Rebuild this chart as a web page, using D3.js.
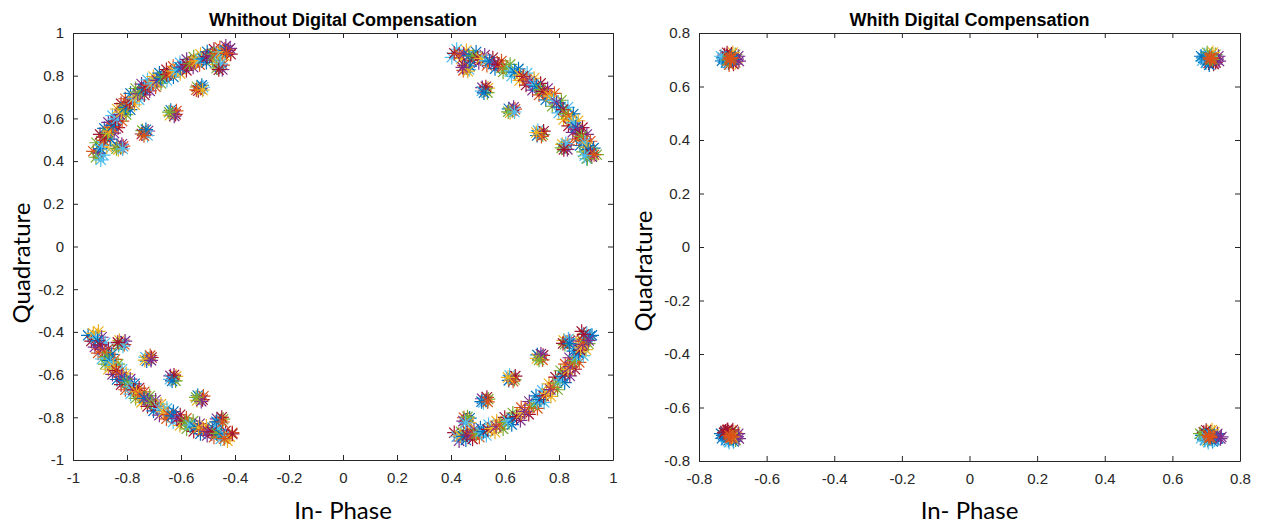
<!DOCTYPE html>
<html>
<head>
<meta charset="utf-8">
<script src="https://cdn.jsdelivr.net/npm/d3@7"></script>
<style>
  body { margin: 0; background: #fff; }
  svg { display: block; }
</style>
</head>
<body>
<svg id="chart" width="1261" height="529"></svg>
<script>
// MATLAB default colour order, indexed by the third value of every point
const seriesColors = ["#0072BD", "#D95319", "#EDB120", "#7E2F8E", "#77AC30", "#4DBEEE", "#A2142F"];

const uncompTicks = [-1, -0.8, -0.6, -0.4, -0.2, 0, 0.2, 0.4, 0.6, 0.8, 1];
const compTicks = [-0.8, -0.6, -0.4, -0.2, 0, 0.2, 0.4, 0.6, 0.8];

const titles = ["Whithout Digital Compensation", "Whith Digital Compensation"];
const xLabel = "In- Phase";
const yLabel = "Quadrature";

// ---- received symbols without compensation: [I, Q, series] ----
const uncompArcUL = [
  [-0.906,0.437,3],[-0.899,0.458,0],[-0.894,0.474,5],[-0.886,0.497,1],
  [-0.882,0.512,6],[-0.872,0.530,4],[-0.867,0.540,2],[-0.857,0.558,1],
  [-0.852,0.567,0],[-0.842,0.587,6],[-0.837,0.598,5],[-0.827,0.618,3],
  [-0.821,0.629,2],[-0.811,0.645,4],[-0.806,0.652,0],[-0.796,0.668,1],
  [-0.790,0.676,6],[-0.779,0.692,5],[-0.771,0.700,2],[-0.760,0.715,3],
  [-0.753,0.723,4],[-0.740,0.737,0],[-0.731,0.743,6],[-0.719,0.756,1],
  [-0.710,0.762,5],[-0.697,0.774,2],[-0.689,0.778,3],[-0.676,0.789,0],
  [-0.667,0.793,4],[-0.653,0.805,6],[-0.642,0.809,1],[-0.628,0.821,2],
  [-0.617,0.825,5],[-0.603,0.837,0],[-0.593,0.841,3],[-0.578,0.852,6],
  [-0.568,0.856,4],[-0.554,0.866,1],[-0.543,0.868,2],[-0.529,0.877,5],
  [-0.518,0.879,0],[-0.504,0.889,6],[-0.494,0.891,3],[-0.479,0.901,4],
  [-0.469,0.903,1],[-0.456,0.911,5],[-0.447,0.911,2],[-0.435,0.918,0],[-0.425,0.920,6],
  [-0.915,0.418,4],[-0.897,0.406,5],[-0.418,0.928,3],[-0.432,0.905,1]
];
const uncompBandUL = [
  [-0.925,0.446,1],[-0.913,0.486,4],[-0.900,0.525,6],[-0.884,0.553,0],[-0.869,0.581,3],
  [-0.854,0.613,5],[-0.837,0.644,2],[-0.822,0.669,6],[-0.806,0.692,1],[-0.787,0.717,0],
  [-0.768,0.740,4],[-0.746,0.761,3],[-0.724,0.780,5],[-0.702,0.796,2],[-0.680,0.812,0],
  [-0.654,0.828,6],[-0.629,0.844,1],[-0.604,0.861,5],[-0.579,0.876,3],[-0.553,0.888,4],
  [-0.528,0.900,2],[-0.503,0.912,0],[-0.478,0.924,6],[-0.456,0.932,1],[-0.434,0.939,3],
  [-0.887,0.428,5],[-0.875,0.466,2],[-0.862,0.503,0],[-0.848,0.531,3],[-0.833,0.557,6],
  [-0.818,0.587,1],[-0.803,0.618,4],[-0.788,0.641,0],[-0.755,0.687,5],[-0.772,0.664,2],
  [-0.736,0.710,6],[-0.716,0.729,3],[-0.694,0.748,1],[-0.674,0.764,4],[-0.652,0.778,5],
  [-0.628,0.794,0],[-0.603,0.810,2],[-0.580,0.825,6],[-0.555,0.840,3],[-0.531,0.852,1],
  [-0.506,0.862,0],[-0.483,0.874,4],[-0.458,0.886,5],[-0.438,0.894,2],[-0.416,0.901,6]
];
const uncompArcUR = [
  [0.412,0.905,6],[0.431,0.901,1],[0.447,0.902,3],[0.466,0.894,0],
  [0.482,0.893,4],[0.499,0.884,6],[0.512,0.881,2],[0.530,0.871,5],
  [0.543,0.868,0],[0.561,0.856,3],[0.574,0.853,6],[0.592,0.841,1],
  [0.605,0.837,4],[0.623,0.823,5],[0.636,0.817,0],[0.654,0.803,2],
  [0.667,0.797,6],[0.681,0.781,1],[0.692,0.774,3],[0.706,0.758,5],
  [0.716,0.750,0],[0.731,0.735,4],[0.741,0.727,6],[0.756,0.712,1],
  [0.766,0.704,2],[0.780,0.684,5],[0.791,0.673,3],[0.805,0.653,0],
  [0.815,0.641,6],[0.826,0.622,4],[0.834,0.610,1],[0.845,0.591,2],
  [0.852,0.579,5],[0.862,0.559,0],[0.868,0.548,3],[0.877,0.528,6],
  [0.883,0.516,4],[0.891,0.497,1],[0.896,0.485,5],[0.904,0.466,2],
  [0.908,0.454,0],[0.916,0.435,6],[0.921,0.421,3],
  [0.905,0.412,4],[0.930,0.430,1],[0.895,0.425,5]
];
const uncompBandUR = [
  [0.421,0.924,5],[0.457,0.918,2],[0.493,0.911,0],[0.525,0.897,3],[0.555,0.884,6],
  [0.587,0.869,1],[0.619,0.853,4],[0.650,0.832,0],[0.682,0.812,5],[0.708,0.788,2],
  [0.732,0.764,6],[0.758,0.740,3],[0.783,0.717,1],[0.809,0.685,4],[0.833,0.652,5],
  [0.853,0.621,0],[0.871,0.589,2],[0.887,0.557,6],[0.903,0.525,3],[0.916,0.493,1],
  [0.928,0.461,0],[0.940,0.430,4],
  [0.403,0.886,5],[0.439,0.880,2],[0.473,0.873,6],[0.503,0.861,3],[0.533,0.848,1],
  [0.563,0.833,0],[0.593,0.817,4],[0.624,0.798,5],[0.654,0.778,2],[0.678,0.756,6],
  [0.702,0.732,3],[0.726,0.710,1],[0.751,0.687,0],[0.775,0.657,4],[0.799,0.626,5],
  [0.817,0.595,2],[0.835,0.565,6],[0.851,0.535,3],[0.865,0.503,1],[0.878,0.473,0],
  [0.890,0.443,4],[0.902,0.412,5]
];
const uncompArcLL = [
  [-0.925,-0.407,2],[-0.916,-0.427,5],[-0.909,-0.441,0],
  [-0.900,-0.461,6],[-0.891,-0.481,3],[-0.884,-0.496,1],
  [-0.875,-0.516,4],[-0.866,-0.534,0],[-0.860,-0.545,5],
  [-0.851,-0.563,2],[-0.840,-0.581,6],[-0.831,-0.592,1],
  [-0.820,-0.610,3],[-0.809,-0.628,0],[-0.800,-0.639,4],
  [-0.789,-0.657,5],[-0.776,-0.672,6],[-0.765,-0.681,2],
  [-0.752,-0.696,1],[-0.737,-0.711,0],[-0.724,-0.719,3],
  [-0.709,-0.734,4],[-0.694,-0.749,6],[-0.681,-0.759,5],
  [-0.666,-0.774,2],[-0.648,-0.786,1],[-0.634,-0.793,0],
  [-0.616,-0.805,3],[-0.599,-0.817,6],[-0.584,-0.824,4],
  [-0.567,-0.836,5],[-0.549,-0.846,0],[-0.535,-0.849,2],
  [-0.517,-0.859,1],[-0.500,-0.866,3],[-0.485,-0.868,6],
  [-0.468,-0.875,4],[-0.451,-0.882,0],[-0.436,-0.884,5],[-0.419,-0.891,2],
  [-0.410,-0.878,6],[-0.440,-0.900,1]
];
const uncompBandLL = [
  [-0.944,-0.416,0],[-0.932,-0.443,6],[-0.919,-0.471,3],[-0.907,-0.499,1],[-0.893,-0.527,5],
  [-0.881,-0.551,4],[-0.869,-0.575,2],[-0.854,-0.599,3],[-0.837,-0.623,0],[-0.822,-0.647,6],
  [-0.806,-0.671,1],[-0.787,-0.691,5],[-0.768,-0.711,4],[-0.746,-0.730,2],[-0.724,-0.749,6],
  [-0.702,-0.770,0],[-0.680,-0.790,3],[-0.654,-0.807,1],[-0.629,-0.822,5],[-0.604,-0.838,2],
  [-0.579,-0.854,4],[-0.553,-0.866,6],[-0.528,-0.877,0],[-0.503,-0.885,3],[-0.478,-0.893,1],
  [-0.453,-0.902,5],[-0.428,-0.910,2],
  [-0.906,-0.398,2],[-0.894,-0.425,3],[-0.881,-0.451,5],[-0.869,-0.479,6],[-0.857,-0.505,0],
  [-0.845,-0.529,1],[-0.833,-0.551,4],[-0.818,-0.575,5],[-0.803,-0.597,2],[-0.788,-0.621,3],
  [-0.772,-0.643,0],[-0.755,-0.663,6],[-0.736,-0.681,1],[-0.716,-0.700,4],[-0.694,-0.719,3],
  [-0.674,-0.738,2],[-0.652,-0.758,5],[-0.628,-0.773,0],[-0.603,-0.788,6],[-0.580,-0.804,1],
  [-0.555,-0.818,4],[-0.531,-0.830,3],[-0.506,-0.841,2],[-0.483,-0.849,0],[-0.458,-0.857,5],
  [-0.435,-0.864,6],[-0.410,-0.872,1]
];
const uncompArcLR = [
  [0.421,-0.891,5],[0.434,-0.887,2],[0.445,-0.889,0],[0.459,-0.883,6],
  [0.470,-0.883,3],[0.484,-0.877,1],[0.494,-0.877,4],[0.509,-0.869,5],
  [0.520,-0.867,0],[0.536,-0.857,6],[0.550,-0.853,2],[0.567,-0.842,3],
  [0.581,-0.836,1],[0.598,-0.824,4],[0.611,-0.819,5],[0.629,-0.805,0],
  [0.643,-0.797,6],[0.660,-0.781,2],[0.673,-0.772,3],[0.691,-0.754,1],
  [0.705,-0.742,4],[0.718,-0.727,5],[0.729,-0.717,0],[0.743,-0.700,6],
  [0.754,-0.688,2],[0.768,-0.670,3],[0.778,-0.659,1],[0.793,-0.639,4],
  [0.804,-0.625,5],[0.814,-0.608,0],[0.822,-0.596,6],[0.833,-0.577,2],
  [0.841,-0.563,3],[0.850,-0.545,1],[0.856,-0.534,4],[0.865,-0.514,5],
  [0.872,-0.500,0],[0.878,-0.485,6],[0.880,-0.475,2],[0.887,-0.458,3],
  [0.890,-0.446,1],[0.898,-0.425,4],[0.903,-0.407,5],
  [0.915,-0.420,0],[0.892,-0.412,6],[0.910,-0.440,3]
];
const uncompBandLR = [
  [0.430,-0.910,3],[0.455,-0.906,0],[0.480,-0.902,6],[0.505,-0.893,1],[0.531,-0.885,5],
  [0.563,-0.870,2],[0.593,-0.854,4],[0.625,-0.834,0],[0.657,-0.814,3],[0.688,-0.786,6],
  [0.720,-0.758,1],[0.745,-0.730,5],[0.770,-0.702,2],[0.795,-0.671,4],[0.821,-0.638,0],
  [0.840,-0.606,3],[0.859,-0.575,6],[0.875,-0.543,1],[0.890,-0.511,5],[0.900,-0.483,2],
  [0.909,-0.455,4],[0.922,-0.416,0],
  [0.412,-0.872,6],[0.437,-0.868,4],[0.460,-0.864,1],[0.485,-0.857,3],[0.509,-0.849,0],
  [0.539,-0.834,5],[0.569,-0.818,2],[0.599,-0.800,6],[0.629,-0.780,4],[0.660,-0.754,1],
  [0.690,-0.726,3],[0.715,-0.700,0],[0.738,-0.674,5],[0.763,-0.643,2],[0.787,-0.612,6],
  [0.806,-0.582,4],[0.823,-0.551,1],[0.839,-0.521,3],[0.854,-0.490,0],[0.862,-0.463,5],
  [0.871,-0.437,2],[0.884,-0.398,6]
];
// inner clusters of the uncompensated constellation
const uncompClustersUL = [
  [-0.456,0.841,0],[-0.445,0.850,1],[-0.466,0.852,2],[-0.447,0.829,3],[-0.468,0.836,4],[-0.453,0.856,5],[-0.460,0.828,6],
  [-0.528,0.740,3],[-0.541,0.748,4],[-0.518,0.746,5],[-0.536,0.730,6],[-0.523,0.755,0],[-0.543,0.734,1],[-0.520,0.733,2],
  [-0.631,0.626,5],[-0.620,0.619,6],[-0.638,0.638,0],[-0.617,0.635,1],[-0.641,0.615,2],[-0.625,0.611,3],[-0.644,0.629,4],
  [-0.733,0.532,2],[-0.722,0.541,3],[-0.743,0.543,4],[-0.724,0.520,5],[-0.745,0.527,6],[-0.730,0.547,0],[-0.737,0.519,1],
  [-0.824,0.464,6],[-0.837,0.472,0],[-0.814,0.470,1],[-0.832,0.454,2],[-0.819,0.479,3],[-0.839,0.458,4],[-0.816,0.457,5]
];
const uncompClustersUR = [
  [0.456,0.836,4],[0.467,0.829,5],[0.449,0.848,6],[0.470,0.845,0],[0.446,0.825,1],[0.462,0.821,2],[0.443,0.839,3],
  [0.526,0.733,1],[0.537,0.742,2],[0.516,0.744,3],[0.535,0.721,4],[0.514,0.728,5],[0.529,0.748,6],[0.522,0.720,0],
  [0.627,0.637,6],[0.614,0.645,0],[0.637,0.643,1],[0.619,0.627,2],[0.632,0.652,3],[0.612,0.631,4],[0.635,0.630,5],
  [0.729,0.531,3],[0.740,0.524,4],[0.722,0.543,5],[0.743,0.540,6],[0.719,0.520,0],[0.735,0.516,1],[0.716,0.534,2],
  [0.822,0.467,0],[0.833,0.476,1],[0.812,0.478,2],[0.831,0.455,3],[0.810,0.462,4],[0.825,0.482,5],[0.818,0.454,6]
];
const uncompClustersLL = [
  [-0.454,-0.815,2],[-0.467,-0.807,3],[-0.444,-0.809,4],[-0.462,-0.825,5],[-0.449,-0.800,6],[-0.469,-0.821,0],[-0.446,-0.822,1],
  [-0.531,-0.710,5],[-0.520,-0.717,6],[-0.538,-0.698,0],[-0.517,-0.701,1],[-0.541,-0.721,2],[-0.525,-0.725,3],[-0.544,-0.707,4],
  [-0.629,-0.617,1],[-0.618,-0.608,2],[-0.639,-0.606,3],[-0.620,-0.629,4],[-0.641,-0.622,5],[-0.626,-0.602,6],[-0.633,-0.630,0],
  [-0.719,-0.526,4],[-0.732,-0.518,5],[-0.709,-0.520,6],[-0.727,-0.536,0],[-0.714,-0.511,1],[-0.734,-0.532,2],[-0.711,-0.533,3],
  [-0.821,-0.452,0],[-0.810,-0.459,1],[-0.828,-0.440,2],[-0.807,-0.443,3],[-0.831,-0.463,4],[-0.815,-0.467,5],[-0.834,-0.449,6]
];
const uncompClustersLR = [
  [0.458,-0.813,6],[0.469,-0.804,0],[0.448,-0.802,1],[0.467,-0.825,2],[0.446,-0.818,3],[0.461,-0.798,4],[0.454,-0.826,5],
  [0.528,-0.721,2],[0.515,-0.713,3],[0.538,-0.715,4],[0.520,-0.731,5],[0.533,-0.706,6],[0.513,-0.727,0],[0.536,-0.728,1],
  [0.624,-0.616,3],[0.635,-0.623,4],[0.617,-0.604,5],[0.638,-0.607,6],[0.614,-0.627,0],[0.630,-0.631,1],[0.611,-0.613,2],
  [0.730,-0.519,5],[0.741,-0.510,6],[0.720,-0.508,0],[0.739,-0.531,1],[0.718,-0.524,2],[0.733,-0.504,3],[0.726,-0.532,4],
  [0.830,-0.448,1],[0.817,-0.440,2],[0.840,-0.442,3],[0.822,-0.458,4],[0.835,-0.433,5],[0.815,-0.454,6],[0.838,-0.455,0]
];

// ---- received symbols after digital compensation: [I, Q, series] ----
const compUL = [
  [-0.708,0.705,0],[-0.696,0.710,4],[-0.718,0.713,6],[-0.702,0.693,2],[-0.722,0.701,5],[-0.704,0.721,6],
  [-0.713,0.688,0],[-0.688,0.702,3],[-0.729,0.707,0],[-0.693,0.719,4],[-0.724,0.718,6],[-0.692,0.690,2],
  [-0.721,0.689,5],[-0.684,0.713,3],[-0.732,0.696,0],[-0.700,0.727,2],[-0.717,0.726,6],[-0.698,0.684,6],
  [-0.711,0.681,1],[-0.682,0.695,3],[-0.735,0.713,5],[-0.706,0.713,0],[-0.714,0.699,4],[-0.701,0.701,0],
  [-0.706,0.703,1],[-0.710,0.707,1],[-0.704,0.708,1],[-0.709,0.700,1]
];
const compUR = [
  [0.712,0.705,0],[0.724,0.710,2],[0.702,0.713,5],[0.718,0.693,6],[0.698,0.701,0],[0.716,0.721,2],
  [0.707,0.688,6],[0.732,0.702,3],[0.691,0.707,0],[0.727,0.719,4],[0.696,0.718,5],[0.728,0.690,6],
  [0.699,0.689,0],[0.736,0.713,3],[0.688,0.696,5],[0.720,0.727,2],[0.703,0.726,4],[0.722,0.684,6],
  [0.709,0.681,0],[0.738,0.695,3],[0.685,0.713,0],[0.714,0.713,5],[0.706,0.699,0],[0.719,0.701,4],
  [0.714,0.703,1],[0.710,0.707,1],[0.716,0.708,1],[0.711,0.700,1]
];
const compLL = [
  [-0.708,-0.706,0],[-0.696,-0.701,2],[-0.718,-0.698,6],[-0.702,-0.718,4],[-0.722,-0.710,5],[-0.704,-0.690,6],
  [-0.713,-0.723,0],[-0.688,-0.709,3],[-0.729,-0.704,0],[-0.693,-0.692,2],[-0.724,-0.693,6],[-0.692,-0.721,4],
  [-0.721,-0.722,5],[-0.684,-0.698,3],[-0.732,-0.715,0],[-0.700,-0.684,6],[-0.717,-0.685,6],[-0.698,-0.727,0],
  [-0.711,-0.730,5],[-0.682,-0.716,3],[-0.735,-0.698,0],[-0.706,-0.698,4],[-0.714,-0.712,0],[-0.701,-0.710,2],
  [-0.722,-0.688,6],[-0.715,-0.683,6],[-0.726,-0.695,6],
  [-0.706,-0.708,1],[-0.710,-0.704,1],[-0.704,-0.712,1],[-0.709,-0.714,1]
];
const compLR = [
  [0.709,-0.706,0],[0.721,-0.701,5],[0.699,-0.698,6],[0.715,-0.718,0],[0.695,-0.710,5],[0.713,-0.690,2],
  [0.704,-0.723,4],[0.729,-0.709,0],[0.688,-0.704,0],[0.724,-0.692,2],[0.693,-0.693,6],[0.725,-0.721,5],
  [0.696,-0.722,0],[0.733,-0.698,3],[0.685,-0.715,5],[0.717,-0.684,2],[0.700,-0.685,6],[0.719,-0.727,0],
  [0.706,-0.730,5],[0.735,-0.716,0],[0.682,-0.698,4],[0.711,-0.698,0],[0.703,-0.712,5],[0.716,-0.710,0],
  [0.745,-0.710,3],[0.742,-0.716,3],
  [0.711,-0.708,1],[0.707,-0.704,1],[0.713,-0.712,1],[0.708,-0.713,1]
];

const uncompPoints = [].concat(
  uncompBandUL, uncompArcUL, uncompClustersUL,
  uncompBandUR, uncompArcUR, uncompClustersUR,
  uncompBandLL, uncompArcLL, uncompClustersLL,
  uncompBandLR, uncompArcLR, uncompClustersLR
);
const compPoints = [].concat(compUL, compUR, compLL, compLR);

// ---- layout ----
const svg = d3.select("#chart");
const axisColor = "#262626";
const tickFont = "'Liberation Sans', Arial, sans-serif";
const labelFont = "Lato, 'Open Sans', sans-serif";

// '*' marker: plus sign overlaid with a cross
const R = 6.5, D = R * 0.72;
const starPath = `M${-R},0H${R}M0,${-R}V${R}M${-D},${-D}L${D},${D}M${-D},${D}L${D},${-D}`;

const fmt = v => String(+v.toFixed(1));

function drawPanel(cfg) {
  const x = d3.scaleLinear().domain(cfg.domain).range([cfg.left, cfg.right]);
  const y = d3.scaleLinear().domain(cfg.domain).range([cfg.bottom, cfg.top]);
  const g = svg.append("g");

  // markers, clipped to the plot box
  const clipId = "clip-" + cfg.id;
  svg.append("clipPath").attr("id", clipId)
    .append("rect")
    .attr("x", cfg.left).attr("y", cfg.top)
    .attr("width", cfg.right - cfg.left).attr("height", cfg.bottom - cfg.top);

  g.append("g").attr("clip-path", `url(#${clipId})`)
    .selectAll("path")
    .data(cfg.points)
    .join("path")
    .attr("d", starPath)
    .attr("transform", d => `translate(${x(d[0])},${y(d[1])})`)
    .attr("fill", "none")
    .attr("stroke", d => seriesColors[d[2]])
    .attr("stroke-width", 1.2)
    .attr("stroke-linecap", "square");

  const styleAxis = (sel, showLabels) => {
    sel.attr("font-family", tickFont).attr("font-size", 15);
    sel.selectAll("path.domain").attr("stroke", axisColor).attr("stroke-width", 1);
    sel.selectAll(".tick line").attr("stroke", axisColor).attr("stroke-width", 1);
    sel.selectAll(".tick text").attr("fill", axisColor);
    if (!showLabels) sel.selectAll(".tick text").remove();
  };

  g.append("g").attr("transform", `translate(0,${cfg.bottom})`)
    .call(d3.axisBottom(x).tickValues(cfg.ticks).tickFormat(fmt).tickSizeInner(-5).tickSizeOuter(0).tickPadding(12))
    .call(s => styleAxis(s, true));
  g.append("g").attr("transform", `translate(0,${cfg.top})`)
    .call(d3.axisTop(x).tickValues(cfg.ticks).tickSizeInner(-5).tickSizeOuter(0))
    .call(s => styleAxis(s, false));
  g.append("g").attr("transform", `translate(${cfg.left},0)`)
    .call(d3.axisLeft(y).tickValues(cfg.ticks).tickFormat(fmt).tickSizeInner(-5).tickSizeOuter(0).tickPadding(9))
    .call(s => styleAxis(s, true));
  g.append("g").attr("transform", `translate(${cfg.right},0)`)
    .call(d3.axisRight(y).tickValues(cfg.ticks).tickSizeInner(-5).tickSizeOuter(0))
    .call(s => styleAxis(s, false));

  const cx = (cfg.left + cfg.right) / 2;
  g.append("text")
    .attr("x", cx).attr("y", 25.5)
    .attr("text-anchor", "middle")
    .attr("font-family", tickFont).attr("font-weight", "bold").attr("font-size", 18)
    .attr("fill", "#000")
    .text(cfg.title);

  g.append("text")
    .attr("x", cx).attr("y", cfg.xLabelY)
    .attr("text-anchor", "middle")
    .attr("font-family", labelFont).attr("font-size", 24)
    .attr("fill", "#000")
    .text(xLabel);

  g.append("text")
    .attr("transform", `translate(${cfg.yLabelX},${cfg.yLabelCY}) rotate(-90)`)
    .attr("text-anchor", "middle")
    .attr("font-family", labelFont).attr("font-size", 24)
    .attr("fill", "#000")
    .text(yLabel);
}

drawPanel({
  id: "uncomp", title: titles[0], domain: [-1, 1], ticks: uncompTicks, points: uncompPoints,
  left: 73, right: 613, top: 33, bottom: 460,
  xLabelY: 519, yLabelX: 30, yLabelCY: 263
});
drawPanel({
  id: "comp", title: titles[1], domain: [-0.8, 0.8], ticks: compTicks, points: compPoints,
  left: 699, right: 1240, top: 33, bottom: 461,
  xLabelY: 519, yLabelX: 652, yLabelCY: 271
});
</script>
</body>
</html>
